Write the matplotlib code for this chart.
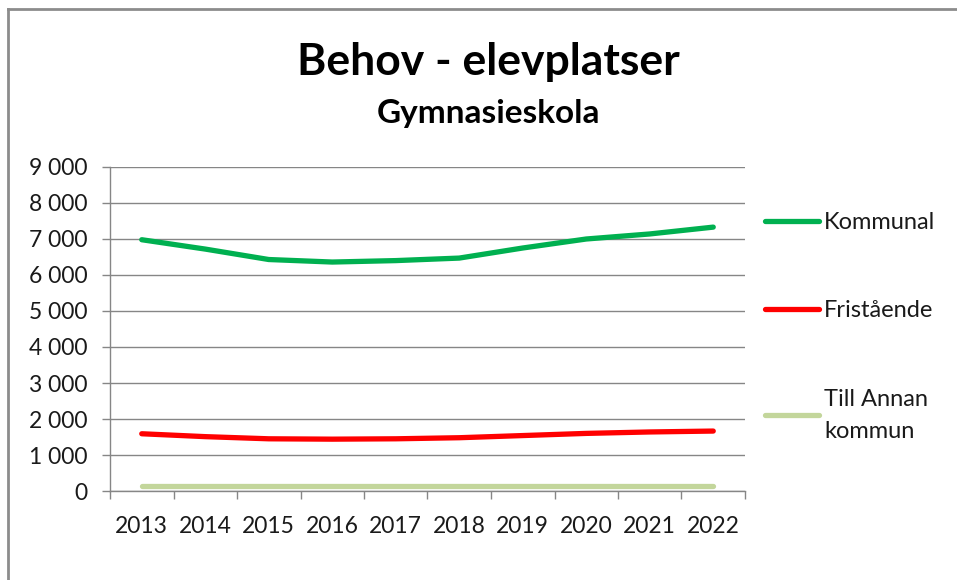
import numpy as np
import matplotlib
matplotlib.use("Agg")
from matplotlib import pyplot as plt
from matplotlib.ticker import FuncFormatter, MultipleLocator, FixedLocator
from matplotlib.lines import Line2D

plt.rcParams['font.family'] = ['Lato', 'DejaVu Sans']

years = ['2013', '2014', '2015', '2016', '2017', '2018', '2019', '2020', '2021', '2022']
kommunal = [6980, 6720, 6430, 6360, 6400, 6470, 6750, 7000, 7140, 7330]
fristaende = [1590, 1510, 1450, 1440, 1450, 1480, 1540, 1600, 1640, 1665]
annan_kommun = [150, 150, 150, 150, 150, 150, 150, 150, 150, 150]

serier = ['Kommunal', 'Fristående', 'Till Annan\nkommun']
farger = ['#00B050', '#FF0000', '#C3D69B']

fig = plt.figure(figsize=(9.57, 5.8), dpi=100)
ax = fig.add_axes([110/957, 1-491/580, (745-110)/957, (491-167)/580])

x = np.arange(len(years))
for data, namn, farg in zip([kommunal, fristaende, annan_kommun], serier, farger):
    ax.plot(x, data, color=farg, lw=3.8, solid_capstyle='round', solid_joinstyle='round', label=namn)

ax.set_xlim(-0.5, len(years) - 0.5)
ax.set_ylim(0, 9000)
ax.yaxis.set_major_locator(MultipleLocator(1000))
ax.yaxis.set_major_formatter(FuncFormatter(lambda v, p: f"{int(v):,}".replace(",", " ")))
ax.set_xticks(x)
ax.set_xticklabels(years)
ax.xaxis.set_minor_locator(FixedLocator(np.arange(-0.5, len(years), 1)))
ax.tick_params(axis='x', which='major', length=0, pad=18, labelsize=16.5, colors='#1a1a1a')
ax.tick_params(axis='x', which='minor', length=6, color='#868686', width=1)
ax.tick_params(axis='y', which='major', length=6, color='#868686', width=1, labelsize=16.5,
               pad=10, labelcolor='#1a1a1a')
ax.grid(axis='y', color='#868686', lw=1)
ax.set_axisbelow(True)
for s in ['top', 'right']:
    ax.spines[s].set_visible(False)
for s in ['left', 'bottom']:
    ax.spines[s].set_color('#868686')
    ax.spines[s].set_linewidth(1)

fig.text(488/957, 1-62/580, 'Behov - elevplatser', ha='center', va='center', fontsize=32, fontweight='bold')
fig.text(488/957, 1-113/580, 'Gymnasieskola', ha='center', va='center', fontsize=24, fontweight='bold')

leg = ax.legend(loc='upper left', bbox_to_anchor=(765/957, 1-212/580), bbox_transform=fig.transFigure,
                frameon=False, fontsize=17, labelspacing=2.85, handlelength=2.3, handletextpad=0.2,
                borderpad=0, borderaxespad=0)
for t in leg.get_texts():
    t.set_linespacing(1.65)
    t.set_color('#1a1a1a')

# ram runt diagrammet
fig.add_artist(Line2D([8/957, 8/957], [0, 1-9/580], color='#8c8c8c', lw=2, transform=fig.transFigure))
fig.add_artist(Line2D([8/957, 1], [1-9/580, 1-9/580], color='#8c8c8c', lw=2, transform=fig.transFigure))

fig.savefig('out.png', dpi=100)
